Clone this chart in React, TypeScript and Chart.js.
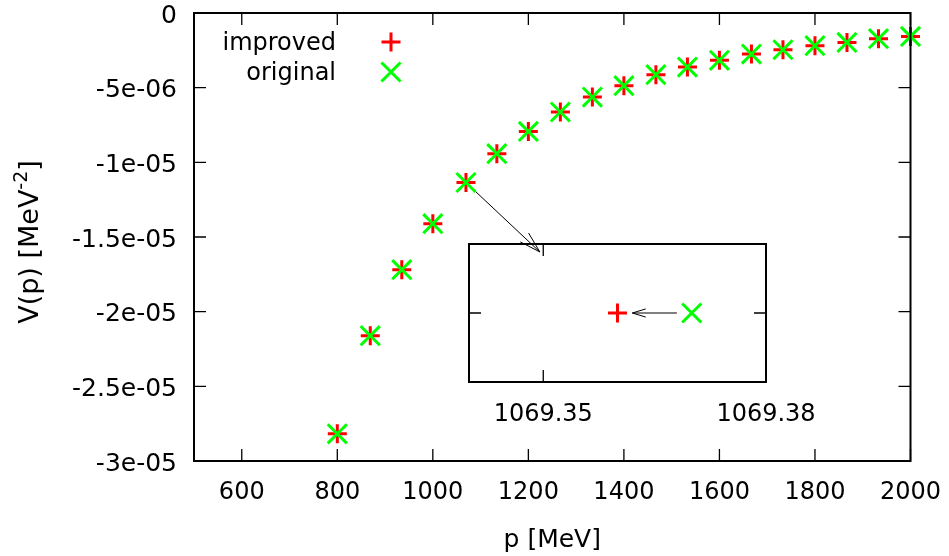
import React, { useEffect, useRef } from 'react';
import { Chart, registerables } from 'chart.js';

Chart.register(...registerables);

// ---- data ----
const seriesLabels = ['improved', 'original'];
const pImproved = [800, 869, 935, 1000, 1069.36, 1134, 1200, 1267, 1334, 1400, 1467, 1533, 1600, 1667, 1733, 1800, 1867, 1933, 2000];
const pOriginal = [800, 869, 935, 1000, 1069.37, 1134, 1200, 1267, 1334, 1400, 1467, 1533, 1600, 1667, 1733, 1800, 1867, 1933, 2000];
const vValues = [-2.818e-5, -2.161e-5, -1.719e-5, -1.411e-5, -1.135e-5, -9.42e-6, -7.93e-6, -6.63e-6, -5.63e-6, -4.87e-6, -4.13e-6, -3.62e-6, -3.17e-6, -2.75e-6, -2.46e-6, -2.19e-6, -1.97e-6, -1.72e-6, -1.57e-6];
const xRange = [500, 2000];
const yRange = [-3e-5, 0];
const xTickValues = [600, 800, 1000, 1200, 1400, 1600, 1800, 2000];
const xTickLabels = ['600', '800', '1000', '1200', '1400', '1600', '1800', '2000'];
const yTickValues = [0, -5e-6, -1e-5, -1.5e-5, -2e-5, -2.5e-5, -3e-5];
const yTickLabels = ['0', '-5e-06', '-1e-05', '-1.5e-05', '-2e-05', '-2.5e-05', '-3e-05'];
const xTitle = 'p [MeV]';
const yTitleMain = 'V(p) [MeV';
const yTitleSup = '-2';
const yTitleEnd = ']';

// inset (zoom on one point)
const zoomIndex = 4;
const insetXRange = [1069.34, 1069.38];
const insetXTicks = [1069.35, 1069.38];
const insetXTickLabels = ['1069.35', '1069.38'];
const insetYHalfRange = 5e-10;
const mainArrowTarget = { p: 1224, v: -1.6e-5 };
const insetArrow = { from: 1069.368, to: 1069.362 };

// ---- style ----
const W = 949;
const H = 556;
const FONT = "'DejaVu Sans', sans-serif";
const RED = '#ff0000';
const GREEN = '#00ff00';
const TICK_LEN = 12;

function drawArrow(ctx: CanvasRenderingContext2D, x1: number, y1: number, x2: number, y2: number, headLen: number, half: number) {
  const a = Math.atan2(y2 - y1, x2 - x1);
  ctx.beginPath();
  ctx.moveTo(x1, y1);
  ctx.lineTo(x2, y2);
  ctx.moveTo(x2 - headLen * Math.cos(a - half), y2 - headLen * Math.sin(a - half));
  ctx.lineTo(x2, y2);
  ctx.lineTo(x2 - headLen * Math.cos(a + half), y2 - headLen * Math.sin(a + half));
  ctx.stroke();
}

const zeroPad = (s: any) => {
  s.paddingTop = 0;
  s.paddingBottom = 0;
  s.paddingLeft = 0;
  s.paddingRight = 0;
};

const frameTicksPlugin = {
  id: 'frameTicks',
  afterDraw(chart: any) {
    const { ctx, chartArea: a, scales } = chart;
    ctx.save();
    ctx.strokeStyle = '#000';
    ctx.lineWidth = 1.3;
    ctx.beginPath();
    for (const t of scales.x.ticks) {
      const px = scales.x.getPixelForValue(t.value);
      ctx.moveTo(px, a.bottom);
      ctx.lineTo(px, a.bottom - TICK_LEN);
      ctx.moveTo(px, a.top);
      ctx.lineTo(px, a.top + TICK_LEN);
    }
    for (const t of scales.y.ticks) {
      const py = scales.y.getPixelForValue(t.value);
      ctx.moveTo(a.left, py);
      ctx.lineTo(a.left + TICK_LEN, py);
      ctx.moveTo(a.right, py);
      ctx.lineTo(a.right - TICK_LEN, py);
    }
    ctx.stroke();
    ctx.lineWidth = 2;
    ctx.strokeRect(a.left, a.top, a.right - a.left, a.bottom - a.top);
    ctx.restore();
  },
};

const mainDecorPlugin = {
  id: 'mainDecor',
  beforeDatasetsDraw(chart: any) {
    const { ctx, scales } = chart;
    const x1 = scales.x.getPixelForValue(pImproved[zoomIndex]);
    const y1 = scales.y.getPixelForValue(vValues[zoomIndex]);
    const x2 = scales.x.getPixelForValue(mainArrowTarget.p);
    const y2 = scales.y.getPixelForValue(mainArrowTarget.v);
    ctx.save();
    ctx.strokeStyle = '#000';
    ctx.lineWidth = 1;
    drawArrow(ctx, x1, y1, x2, y2, 22, (16 * Math.PI) / 180);
    ctx.restore();
  },
  afterDraw(chart: any) {
    const { ctx, chartArea: a } = chart;
    ctx.save();
    ctx.fillStyle = '#000';
    ctx.font = `25px ${FONT}`;
    // x title
    ctx.textAlign = 'center';
    ctx.textBaseline = 'middle';
    ctx.fillText(xTitle, (a.left + a.right) / 2, 540);
    // y title
    ctx.save();
    ctx.translate(38, (a.top + a.bottom) / 2 + 5);
    ctx.rotate(-Math.PI / 2);
    ctx.textAlign = 'left';
    ctx.textBaseline = 'alphabetic';
    ctx.font = `27px ${FONT}`;
    const w1 = ctx.measureText(yTitleMain).width;
    const w3 = ctx.measureText(yTitleEnd).width;
    ctx.font = `19px ${FONT}`;
    const w2 = ctx.measureText(yTitleSup).width;
    let x = -(w1 + w2 + w3) / 2;
    ctx.font = `27px ${FONT}`;
    ctx.fillText(yTitleMain, x, 0);
    x += w1;
    ctx.font = `19px ${FONT}`;
    ctx.fillText(yTitleSup, x, -11);
    x += w2;
    ctx.font = `27px ${FONT}`;
    ctx.fillText(yTitleEnd, x, 0);
    ctx.restore();
    // legend
    ctx.font = `24px ${FONT}`;
    ctx.textAlign = 'right';
    ctx.textBaseline = 'middle';
    const rows = [42, 72];
    const mx = 391;
    chart.data.datasets.forEach((ds: any, i: number) => {
      const y = rows[i];
      ctx.fillStyle = '#000';
      ctx.fillText(ds.label, 336, y + 2);
      ctx.strokeStyle = ds.pointBorderColor;
      ctx.lineWidth = 3;
      ctx.beginPath();
      if (ds.pointStyle === 'cross') {
        const r = ds.pointRadius;
        ctx.moveTo(mx - r, y);
        ctx.lineTo(mx + r, y);
        ctx.moveTo(mx, y - r);
        ctx.lineTo(mx, y + r);
      } else {
        const r = ds.pointRadius * Math.SQRT1_2;
        ctx.moveTo(mx - r, y - r);
        ctx.lineTo(mx + r, y + r);
        ctx.moveTo(mx + r, y - r);
        ctx.lineTo(mx - r, y + r);
      }
      ctx.stroke();
    });
    ctx.restore();
  },
};

const insetArrowPlugin = {
  id: 'insetArrow',
  beforeDatasetsDraw(chart: any) {
    const { ctx, scales } = chart;
    const y = scales.y.getPixelForValue(vValues[zoomIndex]);
    const x1 = scales.x.getPixelForValue(insetArrow.from);
    const x2 = scales.x.getPixelForValue(insetArrow.to);
    ctx.save();
    ctx.strokeStyle = '#000';
    ctx.lineWidth = 1;
    drawArrow(ctx, x1, y, x2, y, 14, (17 * Math.PI) / 180);
    ctx.restore();
  },
};

const tickFont = { family: FONT, size: 24, lineHeight: 1 };
const yTickFont = { family: FONT, size: 25, lineHeight: 1 };

function makeDatasets(improvedPts: any[], originalPts: any[]) {
  return [
    {
      label: seriesLabels[0],
      data: improvedPts,
      pointStyle: 'cross',
      pointRadius: 9.5,
      pointBorderWidth: 3,
      pointBorderColor: RED,
      borderColor: RED,
      backgroundColor: RED,
      showLine: false,
      clip: false as any,
      order: 1,
    },
    {
      label: seriesLabels[1],
      data: originalPts,
      pointStyle: 'crossRot',
      pointRadius: 13.5,
      pointBorderWidth: 3,
      pointBorderColor: GREEN,
      borderColor: GREEN,
      backgroundColor: GREEN,
      showLine: false,
      clip: false as any,
      order: 0,
    },
  ];
}

export default function App() {
  const mainRef = useRef<HTMLCanvasElement>(null);
  const insetRef = useRef<HTMLCanvasElement>(null);

  useEffect(() => {
    document.body.style.margin = '0';
    const improvedPts = pImproved.map((p, i) => ({ x: p, y: vValues[i] }));
    const originalPts = pOriginal.map((p, i) => ({ x: p, y: vValues[i] }));

    const main = new Chart(mainRef.current!, {
      type: 'scatter',
      data: { datasets: makeDatasets(improvedPts, originalPts) as any },
      options: {
        animation: false,
        responsive: false,
        events: [],
        layout: { autoPadding: false, padding: { left: 0, top: 13, right: 38.5, bottom: 0 } },
        plugins: { legend: { display: false }, tooltip: { enabled: false } },
        scales: {
          x: {
            type: 'linear',
            min: xRange[0],
            max: xRange[1],
            afterBuildTicks: (s: any) => { s.ticks = xTickValues.map((v) => ({ value: v })); },
            afterFit: (s: any) => { s.height = H - 461; zeroPad(s); },
            ticks: {
              font: tickFont,
              color: '#000',
              padding: 20,
              autoSkip: false,
              maxRotation: 0,
              callback: (_v: any, i: number) => xTickLabels[i],
            },
            grid: { display: false, drawTicks: false },
            border: { display: false },
          },
          y: {
            type: 'linear',
            min: yRange[0],
            max: yRange[1],
            afterBuildTicks: (s: any) => { s.ticks = yTickValues.map((v) => ({ value: v })); },
            afterFit: (s: any) => { s.width = 194; zeroPad(s); },
            ticks: {
              font: yTickFont,
              color: '#000',
              padding: 17,
              labelOffset: 3,
              autoSkip: false,
              callback: (_v: any, i: number) => yTickLabels[i],
            },
            grid: { display: false, drawTicks: false },
            border: { display: false },
          },
        },
      },
      plugins: [mainDecorPlugin, frameTicksPlugin],
    });

    const vz = vValues[zoomIndex];
    const inset = new Chart(insetRef.current!, {
      type: 'scatter',
      data: {
        datasets: makeDatasets(
          [{ x: pImproved[zoomIndex], y: vz }],
          [{ x: pOriginal[zoomIndex], y: vz }]
        ) as any,
      },
      options: {
        animation: false,
        responsive: false,
        events: [],
        layout: { autoPadding: false, padding: { left: 469, top: 244, right: W - 766, bottom: 0 } },
        plugins: { legend: { display: false }, tooltip: { enabled: false } },
        scales: {
          x: {
            type: 'linear',
            min: insetXRange[0],
            max: insetXRange[1],
            afterBuildTicks: (s: any) => { s.ticks = insetXTicks.map((v) => ({ value: v })); },
            afterFit: (s: any) => { s.height = H - 382; zeroPad(s); },
            ticks: {
              font: tickFont,
              color: '#000',
              padding: 21,
              autoSkip: false,
              maxRotation: 0,
              callback: (_v: any, i: number) => insetXTickLabels[i],
            },
            grid: { display: false, drawTicks: false },
            border: { display: false },
          },
          y: {
            type: 'linear',
            min: vz - insetYHalfRange,
            max: vz + insetYHalfRange,
            afterBuildTicks: (s: any) => { s.ticks = [{ value: vz }]; },
            afterFit: (s: any) => { s.width = 0; zeroPad(s); },
            ticks: { display: false },
            grid: { display: false, drawTicks: false },
            border: { display: false },
          },
        },
      },
      plugins: [insetArrowPlugin, frameTicksPlugin],
    });

    return () => {
      main.destroy();
      inset.destroy();
    };
  }, []);

  return (
    <div style={{ position: 'relative', width: W, height: H, background: '#fff' }}>
      <canvas ref={mainRef} width={W} height={H} style={{ position: 'absolute', left: 0, top: 0 }} />
      <canvas ref={insetRef} width={W} height={H} style={{ position: 'absolute', left: 0, top: 0, pointerEvents: 'none' }} />
    </div>
  );
}
